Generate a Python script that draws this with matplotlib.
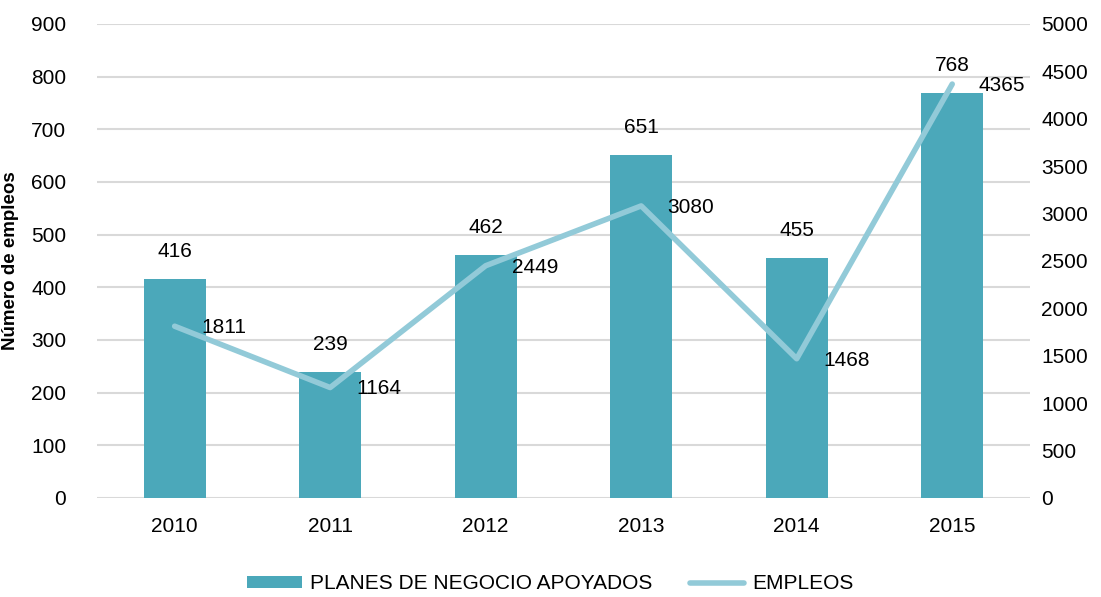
import matplotlib.pyplot as plt
import numpy as np

plt.rcParams['font.family'] = ['Liberation Sans', 'DejaVu Sans']

years = ['2010', '2011', '2012', '2013', '2014', '2015']
planes = [416, 239, 462, 651, 455, 768]
empleos = [1811, 1164, 2449, 3080, 1468, 4365]

bar_color = '#4BA8BA'
line_color = '#92CAD8'
grid_color = '#D9D9D9'

fig = plt.figure(figsize=(11.01, 5.97), dpi=100)
ax = fig.add_axes([0.088, 0.166, 0.8475, 0.794])
ax2 = ax.twinx()

x = np.arange(len(years))
bars = ax.bar(x, planes, width=0.4, color=bar_color, zorder=2,
              label='PLANES DE NEGOCIO APOYADOS')
ax.set_ylim(0, 900)
ax.set_yticks(range(0, 901, 100))
ax.set_xlim(-0.5, 5.5)
ax.set_xticks(x)
ax.set_xticklabels(years)
ax.grid(axis='y', color=grid_color, linewidth=1.5, zorder=0)
ax.set_axisbelow(True)
ax.set_ylabel('Número de empleos', fontsize=13.5, fontweight='bold')
ax.yaxis.set_label_coords(-0.083, 0.5)

for xi, v in zip(x, planes):
    ax.annotate(str(v), (xi, v), xytext=(0, 13), textcoords='offset points',
                ha='center', va='bottom', fontsize=15)

line, = ax2.plot(x, empleos, color=line_color, linewidth=4,
                 solid_capstyle='round', zorder=3, label='EMPLEOS')
ax2.set_ylim(0, 5000)
ax2.set_yticks(range(0, 5001, 500))
for xi, v in zip(x, empleos):
    ax2.annotate(str(v), (xi, v), xytext=(19, -1), textcoords='offset points',
                 ha='left', va='center', fontsize=15)

for a in (ax, ax2):
    for s in a.spines.values():
        s.set_visible(False)
    a.tick_params(length=0, labelsize=15)
ax.tick_params(axis='y', pad=22)
ax.tick_params(axis='x', pad=14)
ax2.tick_params(axis='y', pad=8)

fig.legend(handles=[bars, line], loc='center', bbox_to_anchor=(0.5, 0.022),
           ncol=2, frameon=False, fontsize=15, handlelength=2.6,
           handleheight=0.5, columnspacing=1.8, handletextpad=0.4)

fig.savefig('out.png', dpi=100)
